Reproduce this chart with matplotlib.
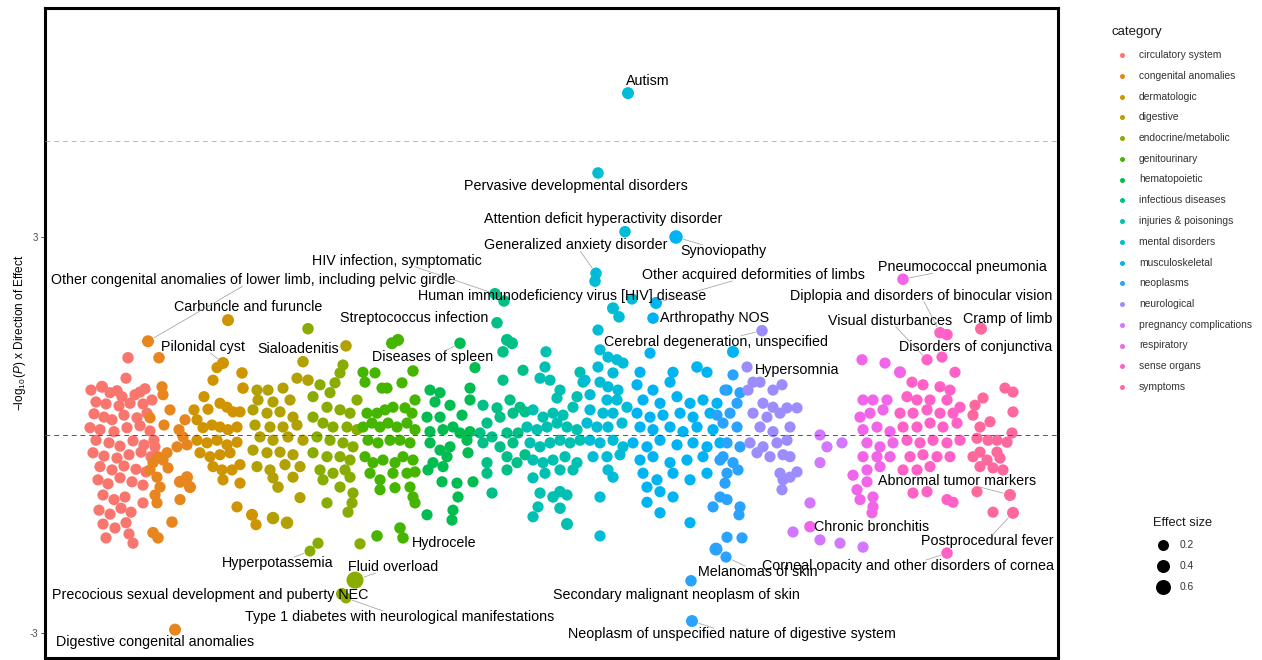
import numpy as np
import matplotlib
matplotlib.use("Agg")
import matplotlib.pyplot as plt
from matplotlib.lines import Line2D

plt.rcParams["font.family"] = ["Liberation Sans", "DejaVu Sans"]
plt.rcParams["mathtext.fontset"] = "custom"
plt.rcParams["mathtext.rm"] = "Liberation Sans"
plt.rcParams["mathtext.it"] = "Liberation Sans:italic"

# phecode order position, signed -log10(P), effect size (default below), label
categories = ["circulatory system", "congenital anomalies", "dermatologic", "digestive",
              "endocrine/metabolic", "genitourinary", "hematopoietic", "infectious diseases",
              "injuries & poisonings", "mental disorders", "musculoskeletal", "neoplasms",
              "neurological", "pregnancy complications", "respiratory", "sense organs",
              "symptoms"]
default_effect = 0.22

circulatory = [
    (128, 1.17, 0.25), (126, 0.86), (91, 0.68), (102, 0.73, 0.3), (117, 0.67), (110, 0.64),
    (122, 0.58), (135, 0.61), (140, 0.65), (145, 0.70), (96, 0.50), (106, 0.47), (119, 0.44),
    (130, 0.48), (143, 0.47), (152, 0.53), (94, 0.32), (104, 0.27), (112, 0.23), (124, 0.30),
    (137, 0.26), (147, 0.33), (90, 0.11), (100, 0.08), (114, 0.05), (127, 0.11), (140, 0.14),
    (150, 0.06), (96, -0.08), (109, -0.12), (120, -0.17), (133, -0.09), (144, -0.15),
    (154, -0.08), (93, -0.27), (104, -0.32), (117, -0.35), (129, -0.30), (141, -0.26),
    (151, -0.33), (100, -0.48), (112, -0.53), (124, -0.47), (136, -0.52), (146, -0.56),
    (98, -0.68), (108, -0.74), (120, -0.65), (132, -0.71), (143, -0.76), (103, -0.91),
    (114, -0.98), (125, -0.94), (99, -1.14), (110, -1.20), (121, -1.11), (131, -1.17),
    (103, -1.35), (115, -1.41), (126, -1.33), (106, -1.56), (133, -1.64), (129, -1.50),
    (143, -1.03), (155, -0.18),
]
congenital = [
    (148, 1.42, 0.3, "Other congenital anomalies of lower limb, including pelvic girdle"),
    (159, 1.17, 0.25), (162, 0.73), (163, 0.61), (150, 0.26), (164, 0.15), (179, 0.08),
    (170, 0.38), (185, 0.23), (183, -0.03), (177, -0.18), (187, -0.15), (167, -0.27),
    (158, -0.33), (153, -0.42), (163, -0.38), (150, -0.53), (168, -0.50), (157, -0.64),
    (160, -0.79), (155, -0.91), (157, -1.03), (180, -0.71, 0.3), (187, -0.64, 0.3),
    (190, -0.79, 0.3), (180, -0.98), (172, -1.32, 0.25), (153, -1.48, 0.25), (158, -1.56, 0.25),
    (175, -2.95, 0.3, "Digestive congenital anomalies"),
]
dermatologic = [
    (228, 1.74, 0.3, "Carbuncle and furuncle"), (223, 1.09, 0.3, "Pilonidal cyst"),
    (217, 1.02), (213, 0.83), (242, 0.94, 0.25), (243, 0.71, 0.25), (204, 0.58), (194, 0.38),
    (208, 0.39), (220, 0.48), (227, 0.42), (233, 0.35), (240, 0.35), (197, 0.23), (203, 0.11),
    (212, 0.15), (220, 0.12), (228, 0.08), (237, 0.12), (197, -0.08), (207, -0.12),
    (217, -0.08), (227, -0.15), (237, -0.11), (200, -0.27), (210, -0.33), (220, -0.30),
    (230, -0.27), (213, -0.48), (222, -0.53), (232, -0.53), (240, -0.45), (223, -0.68),
    (240, -0.73), (237, -1.09), (252, -1.21, 0.3), (256, -1.36),
]
digestive = [
    (346, 1.35, 0.25, "Sialoadenitis"), (303, 1.11, 0.25), (297, 0.86), (308, 0.83, 0.25),
    (257, 0.68), (268, 0.68), (283, 0.71), (258, 0.53), (273, 0.50), (290, 0.53), (253, 0.38),
    (267, 0.33), (280, 0.35), (293, 0.27), (255, 0.15), (270, 0.12), (283, 0.12), (297, 0.15),
    (260, -0.03), (273, -0.08), (288, -0.03), (303, -0.08), (253, -0.23), (267, -0.27),
    (280, -0.26), (293, -0.30), (257, -0.48), (270, -0.53), (285, -0.45), (300, -0.48),
    (273, -0.65), (278, -0.79, 0.25), (293, -0.64), (300, -0.95), (273, -1.26, 0.35),
    (287, -1.33, 0.35),
]
endocrine = [
    (308, 1.61, 0.25), (343, 1.06), (340, 0.94), (335, 0.79), (330, 0.64), (320, 0.76),
    (313, 0.58), (357, 0.53), (327, 0.42), (340, 0.38), (350, 0.33), (313, 0.27), (323, 0.18),
    (333, 0.12), (347, 0.12), (357, 0.08), (317, -0.03), (330, -0.08), (343, -0.12),
    (353, -0.18), (313, -0.27), (327, -0.33), (340, -0.33), (350, -0.38), (320, -0.53),
    (333, -0.58), (345, -0.53), (323, -0.68), (340, -0.79), (350, -0.64), (353, -0.88),
    (352, -1.03), (348, -1.17), (327, -1.03), (318, -1.64),
    (310, -1.76, 0.2, "Hyperpotassemia"), (360, -1.65),
    (355, -2.20, 0.8, "Fluid overload"),
    (342, -2.41, 0.3, "Precocious sexual development and puberty NEC"),
    (346, -2.47, 0.2, "Type 1 diabetes with neurological manifestations"),
]
genitourinary = [
    (392, 1.39, 0.3), (398, 1.44, 0.3), (363, 0.95), (365, 0.80), (375, 0.94), (382, 0.71),
    (387, 0.71), (402, 0.79), (413, 0.97, 0.25), (415, 0.53), (367, 0.33), (377, 0.33),
    (385, 0.38), (393, 0.42), (405, 0.41), (412, 0.33), (363, 0.12), (372, 0.18), (380, 0.12),
    (388, 0.18), (397, 0.12), (407, 0.18), (415, 0.08), (368, -0.08), (378, -0.12),
    (390, -0.08), (400, -0.08), (410, -0.12), (365, -0.33), (373, -0.42), (383, -0.38),
    (395, -0.42), (403, -0.33), (413, -0.38), (370, -0.58), (380, -0.68), (393, -0.58),
    (407, -0.58), (415, -0.56), (380, -0.83), (395, -0.80), (410, -0.79), (413, -0.94),
    (415, -1.03), (377, -1.53, 0.25), (400, -1.41, 0.25), (403, -1.56, 0.25, "Hydrocele"),
]
hematopoietic = [
    (460, 1.39, 0.25, "Diseases of spleen"), (475, 1.02), (430, 0.68), (440, 0.64), (470, 0.71),
    (435, 0.50), (450, 0.45), (462, 0.30), (470, 0.53), (427, 0.27), (440, 0.27), (453, 0.12),
    (430, 0.05), (443, 0.08), (460, 0.03), (470, 0.05), (430, -0.12), (440, -0.23),
    (450, -0.18), (467, -0.08), (433, -0.42), (447, -0.33), (468, -0.27), (428, -0.53),
    (443, -0.48), (442, -0.71), (457, -0.73), (458, -0.94), (427, -1.21), (453, -1.14),
    (452, -1.29), (473, -0.71),
]
infectious = [
    (497, 1.70, 0.25, "Streptococcus infection"),
    (495, 2.14, 0.25, "HIV infection, symptomatic"),
    (504, 2.03, 0.25, "Human immunodeficiency virus [HIV] disease"),
    (507, 1.44, 0.3), (512, 1.39, 0.3), (503, 1.26, 0.25), (503, 0.83), (523, 0.98),
    (483, 0.45), (497, 0.41), (510, 0.53), (520, 0.42), (487, 0.18), (500, 0.27), (513, 0.33),
    (525, 0.35), (480, 0.03), (492, -0.03), (507, 0.03), (518, 0.03), (483, -0.12),
    (500, -0.18), (513, -0.12), (487, -0.42), (507, -0.33), (517, -0.42), (487, -0.58),
    (507, -0.53), (492, -0.88), (525, -0.30),
]
injuries = [
    (546, 1.26), (545, 1.03), (540, 0.86), (550, 0.83), (560, 0.68), (557, 0.56), (580, 0.95),
    (583, 0.80), (577, 0.58), (533, 0.38), (543, 0.27), (553, 0.33), (563, 0.30), (573, 0.42),
    (527, 0.12), (537, 0.08), (547, 0.12), (557, 0.18), (567, 0.12), (577, 0.08), (530, -0.12),
    (540, -0.18), (550, -0.12), (560, -0.08), (570, -0.12), (580, -0.08), (533, -0.38),
    (543, -0.42), (553, -0.38), (565, -0.33), (577, -0.42), (533, -0.65), (545, -0.58),
    (560, -0.53), (573, -0.53), (540, -0.88), (553, -0.94, 0.25), (560, -0.86, 0.25),
    (567, -0.91), (538, -1.09), (560, -1.11, 0.25), (533, -1.24), (567, -1.35, 0.3),
]
mental = [
    (628, 5.18, 0.3, "Autism"), (598, 3.97, 0.25, "Pervasive developmental disorders"),
    (625, 3.08, 0.25, "Attention deficit hyperactivity disorder"),
    (596, 2.45, 0.25, "Generalized anxiety disorder"), (595, 2.33, 0.25),
    (613, 1.92, 0.3), (619, 1.79, 0.25), (632, 2.06), (598, 1.59), (600, 1.29), (608, 1.18),
    (617, 1.14), (623, 1.09), (598, 1.03), (613, 0.94), (585, 0.83), (600, 0.80), (608, 0.73),
    (618, 0.68), (590, 0.61), (607, 0.53), (617, 0.53), (627, 0.42), (590, 0.38), (603, 0.33),
    (613, 0.33), (587, 0.18), (597, 0.12), (608, 0.12), (622, 0.18), (590, -0.08),
    (600, -0.12), (613, -0.08), (623, -0.18), (593, -0.33), (607, -0.33), (620, -0.30),
    (608, -0.53), (613, -0.64), (600, -0.94), (600, -1.53),
]
musculoskeletal = [
    (676, 3.00, 0.45, "Synoviopathy"),
    (656, 2.00, 0.3, "Other acquired deformities of limbs"),
    (653, 1.77, 0.25, "Arthropathy NOS"), (650, 1.24), (733, 1.26, 0.3), (640, 0.95),
    (637, 0.76), (653, 0.68), (673, 0.95), (670, 0.80), (697, 1.03, 0.25), (707, 0.95),
    (727, 0.68), (643, 0.53), (660, 0.48), (677, 0.58), (690, 0.48), (703, 0.53), (717, 0.48),
    (637, 0.33), (650, 0.27), (663, 0.30), (680, 0.33), (693, 0.27), (710, 0.33), (640, 0.12),
    (653, 0.08), (670, 0.12), (683, 0.05), (697, 0.12), (713, 0.08), (633, -0.12),
    (647, -0.18), (660, -0.08), (677, -0.15), (693, -0.12), (707, -0.18), (720, -0.12),
    (640, -0.38), (653, -0.33), (670, -0.42), (687, -0.38), (703, -0.33), (643, -0.58),
    (657, -0.68), (673, -0.58), (690, -0.68), (707, -0.58), (647, -0.79), (660, -0.86),
    (673, -0.94), (647, -1.02), (660, -1.18), (690, -1.33),
]
neoplasms = [
    (726, -1.85, 0.22, "Melanomas of skin"), (716, -1.73, 0.4),
    (691, -2.21, 0.25, "Secondary malignant neoplasm of skin"),
    (692, -2.82, 0.3, "Neoplasm of unspecified nature of digestive system"),
    (725, 0.68), (740, 0.64), (737, 0.48), (730, 0.33), (723, 0.18), (737, 0.12),
    (727, -0.12), (740, -0.18), (723, -0.33), (733, -0.42), (727, -0.58), (738, -0.53),
    (720, -0.38), (725, -0.73), (720, -0.94), (713, -1.09), (727, -0.98), (740, -1.09),
    (727, -1.55), (742, -1.56), (739, -1.21), (717, 0.30), (733, 0.91),
]
neurological = [
    (762, 1.58, 0.25, "Cerebral degeneration, unspecified"), (747, 1.03, 0.22, "Hypersomnia"),
    (753, 0.80), (760, 0.80), (773, 0.68), (782, 0.76), (748, 0.68), (763, 0.48), (773, 0.42),
    (787, 0.41), (797, 0.41), (753, 0.33), (767, 0.27), (780, 0.33), (790, 0.12), (760, 0.12),
    (773, 0.05), (750, -0.12), (763, -0.18), (777, -0.12), (787, -0.08), (757, -0.27),
    (770, -0.33), (783, -0.30), (790, -0.33), (780, -0.58), (790, -0.64), (797, -0.56),
    (782, -0.83), (783, -0.68),
]
pregnancy = [
    (820, 0.00), (827, -0.18), (842, -0.12), (820, -0.42), (810, -1.03), (793, -1.47),
    (820, -1.59), (840, -1.64), (863, -1.70),
]
respiratory = [
    (903, 2.36, 0.25, "Pneumococcal pneumonia"), (810, -1.39, 0.25, "Chronic bronchitis"),
    (862, 1.14), (885, 1.09), (900, 0.95, 0.3), (863, 0.53), (873, 0.53), (887, 0.53),
    (860, 0.27), (870, 0.33), (883, 0.38), (863, 0.08), (877, 0.12), (890, 0.05),
    (867, -0.12), (880, -0.18), (893, -0.12), (863, -0.33), (877, -0.33), (890, -0.33),
    (867, -0.53), (880, -0.48), (853, -0.61), (867, -0.71), (857, -0.83), (860, -0.98),
    (873, -0.94), (873, -1.09), (872, -1.18),
]
sense_organs = [
    (940, 1.55, 0.25, "Diplopia and disorders of binocular vision"),
    (947, 1.52, 0.25, "Disorders of conjunctiva"),
    (927, 1.14, 0.22, "Visual disturbances"),
    (947, -1.79, 0.25, "Corneal opacity and other disorders of cornea"),
    (942, 1.18), (955, 0.95), (912, 0.80), (923, 0.76), (940, 0.73), (950, 0.68), (907, 0.58),
    (917, 0.53), (930, 0.53), (947, 0.53), (960, 0.42), (900, 0.33), (913, 0.33), (927, 0.38),
    (940, 0.33), (953, 0.33), (903, 0.12), (917, 0.12), (930, 0.18), (943, 0.12), (957, 0.18),
    (907, -0.08), (920, -0.12), (933, -0.08), (947, -0.12), (960, -0.08), (910, -0.33),
    (923, -0.30), (937, -0.33), (950, -0.33), (903, -0.53), (917, -0.53), (930, -0.48),
    (913, -0.88), (927, -0.86), (947, -0.98), (953, -1.02),
]
symptoms = [
    (981, 1.61, 0.3, "Cramp of limb"), (1010, -0.91, 0.3, "Abnormal tumor markers"),
    (1013, -1.18, 0.3, "Postprocedural fever"),
    (1005, 0.71), (1013, 0.65), (983, 0.56), (975, 0.45), (1013, 0.35), (973, 0.30),
    (990, 0.20), (980, 0.12), (1012, 0.03), (977, -0.05), (988, -0.08), (997, -0.08),
    (1007, -0.11), (980, -0.26), (997, -0.26), (973, -0.33), (987, -0.38), (1000, -0.35),
    (980, -0.48), (993, -0.50), (1003, -0.53), (977, -0.86), (993, -1.17),
]

groups = [circulatory, congenital, dermatologic, digestive, endocrine, genitourinary,
          hematopoietic, infectious, injuries, mental, musculoskeletal, neoplasms,
          neurological, pregnancy, respiratory, sense_organs, symptoms]

sig_line = 4.45  # bonferroni threshold

# text offsets from each labelled point, in pixels (right, up)
label_offsets = {
    "Autism": (20, 12),
    "Pervasive developmental disorders": (-22, -13),
    "Attention deficit hyperactivity disorder": (-22, 13),
    "Generalized anxiety disorder": (-20, 28),
    "Synoviopathy": (47, -14),
    "HIV infection, symptomatic": (-98, 33),
    "Other congenital anomalies of lower limb, including pelvic girdle": (105, 61),
    "Other acquired deformities of limbs": (97, 28),
    "Pneumococcal pneumonia": (59, 12),
    "Human immunodeficiency virus [HIV] disease": (58, 5),
    "Diplopia and disorders of binocular vision": (-19, 37),
    "Carbuncle and furuncle": (20, 13),
    "Streptococcus infection": (-83, 5),
    "Arthropathy NOS": (62, 0),
    "Visual disturbances": (-37, 39),
    "Cramp of limb": (27, 10),
    "Pilonidal cyst": (-20, 16),
    "Sialoadenitis": (-48, -3),
    "Cerebral degeneration, unspecified": (-46, -11),
    "Disorders of conjunctiva": (29, -12),
    "Diseases of spleen": (-27, -14),
    "Hypersomnia": (50, -3),
    "Abnormal tumor markers": (-53, 14),
    "Chronic bronchitis": (62, 0),
    "Postprocedural fever": (-26, -28),
    "Hyperpotassemia": (-32, -12),
    "Hydrocele": (41, -5),
    "Fluid overload": (38, 13),
    "Corneal opacity and other disorders of cornea": (-39, -13),
    "Melanomas of skin": (32, -15),
    "Precocious sexual development and puberty NEC": (-132, -1),
    "Secondary malignant neoplasm of skin": (-15, -14),
    "Type 1 diabetes with neurological manifestations": (54, -19),
    "Neoplasm of unspecified nature of digestive system": (40, -13),
    "Digestive congenital anomalies": (-20, -12),
}


def hue_pal(n, c=100.0, l=65.0):
    # ggplot2 style evenly spaced hues in polar Luv
    hues = np.linspace(15, 375, n + 1)[:-1]
    xn, yn, zn = 95.047, 100.0, 108.883
    un = 4 * xn / (xn + 15 * yn + 3 * zn)
    vn = 9 * yn / (xn + 15 * yn + 3 * zn)
    out = []
    for h in hues:
        u = c * np.cos(np.radians(h))
        v = c * np.sin(np.radians(h))
        Y = yn * ((l + 16) / 116) ** 3
        up = u / (13 * l) + un
        vp = v / (13 * l) + vn
        X = Y * 9 * up / (4 * vp)
        Z = -X / 3 - 5 * Y + 3 * Y / vp
        X, Y, Z = X / 100, Y / 100, Z / 100
        rgb = np.array([3.240479 * X - 1.537150 * Y - 0.498535 * Z,
                        -0.969256 * X + 1.875992 * Y + 0.041556 * Z,
                        0.055648 * X - 0.204043 * Y + 1.057311 * Z])
        rgb = np.where(rgb > 0.0031308, 1.055 * np.abs(rgb) ** (1 / 2.4) - 0.055, 12.92 * rgb)
        out.append(tuple(np.clip(rgb, 0, 1)))
    return out


def diameter(e):
    return 9 + 10 * np.asarray(e)  # pixels


def marker_area(e):
    return (diameter(e) * 0.72) ** 2


colors = hue_pal(len(categories))

W, H = 1262, 660
fig = plt.figure(figsize=(W / 100, H / 100), dpi=100)
ax = fig.add_axes([45 / W, 2 / H, 1013 / W, 650 / H])

labelled = []
for cat, pts, col in zip(categories, groups, colors):
    xs = [p[0] for p in pts]
    ys = [p[1] for p in pts]
    es = [p[2] if len(p) > 2 else default_effect for p in pts]
    ax.scatter(xs, ys, s=marker_area(es), color=col, linewidths=0, zorder=2)
    for p in pts:
        if len(p) > 3:
            labelled.append((p[3], p[0], p[1], p[2]))

ax.axhline(0, color="#555555", lw=0.7, ls=(0, (5, 4)), zorder=3)
ax.axhline(sig_line, color="#F8766D", lw=0.7, ls=(0, (5, 4)), alpha=0.7, zorder=3)

ax.set_xlim(45, 1058)
ax.set_ylim(-3.38, 6.47)
ax.set_xticks([])
ax.set_yticks([-3, 3])
ax.set_yticklabels(["-3", "3"])
ax.tick_params(axis="y", length=3, width=0.6, color="#333333", labelsize=7,
               labelcolor="#4D4D4D", pad=2)
for sp in ax.spines.values():
    sp.set_linewidth(2.2)
    sp.set_color("black")
ax.set_ylabel(r"$-\log_{10}(P)$ x Direction of Effect", fontsize=8.5, labelpad=1)

texts = []
for name, x, y, e in labelled:
    dx, dy = label_offsets[name]
    t = ax.annotate(name, xy=(x, y), xytext=(dx, dy), textcoords="offset pixels",
                    ha="center", va="center", fontsize=10.3, color="black", zorder=5)
    texts.append((t, x, y, e))

# connector segments: from the point towards the label centre, stopping at the label box
fig.canvas.draw()
renderer = fig.canvas.get_renderer()
for t, x, y, e in texts:
    bb = t.get_window_extent(renderer)
    px, py = ax.transData.transform((x, y))
    cx, cy = (bb.x0 + bb.x1) / 2, (bb.y0 + bb.y1) / 2
    vx, vy = px - cx, py - cy
    hw, hh = bb.width / 2 + 1, bb.height / 2 - 1
    s = min(hw / abs(vx) if vx else np.inf, hh / abs(vy) if vy else np.inf)
    if s >= 1:
        continue
    qx, qy = cx + vx * s, cy + vy * s
    dist = np.hypot(qx - px, qy - py)
    r = diameter(e) / 2 + 1
    if dist > r + 9:
        ux, uy = (qx - px) / dist, (qy - py) / dist
        fig.add_artist(Line2D([(px + ux * r) / W, qx / W], [(py + uy * r) / H, qy / H],
                              transform=fig.transFigure, color="#999999", lw=0.5, zorder=4))

# legends drawn in pixel space on an overlay
lax = fig.add_axes([0, 0, 1, 1], facecolor="none")
lax.set_xlim(0, W)
lax.set_ylim(H, 0)
lax.axis("off")

lax.text(1111, 32, "category", fontsize=9.5, va="center", ha="left", color="#1A1A1A")
for i, (cat, col) in enumerate(zip(categories, colors)):
    yy = 55 + 20.75 * i
    lax.scatter([1122], [yy], s=(5 * 0.72) ** 2, color=col, linewidths=0)
    lax.text(1139, yy, cat, fontsize=7.4, va="center", ha="left", color="#333333")

lax.text(1153, 523, "Effect size", fontsize=9.3, va="center", ha="left", color="#1A1A1A")
for i, e in enumerate([0.2, 0.4, 0.6]):
    yy = 545 + 21 * i
    lax.scatter([1163], [yy], s=marker_area(e), color="black", linewidths=0)
    lax.text(1180, yy, f"{e:.1f}", fontsize=7.4, va="center", ha="left", color="#333333")

fig.savefig("out.png", dpi=100)
